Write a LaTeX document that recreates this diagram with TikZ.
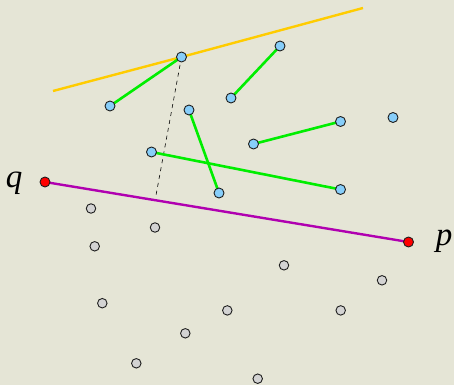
\documentclass[tikz,border=0pt]{standalone}
\usepackage{fontspec}
\newfontfamily\lblfont{Liberation Serif}
\usepackage{tikz}
\definecolor{bg}{RGB}{229,229,214}
\definecolor{ptblue}{RGB}{135,206,250}
\definecolor{ptgray}{RGB}{211,211,211}
\definecolor{ptred}{RGB}{255,0,0}
\definecolor{segyellow}{RGB}{255,204,0}
\definecolor{seggreen}{RGB}{0,238,0}
\definecolor{segpurple}{RGB}{176,0,176}
\definecolor{ptline}{RGB}{30,30,30}
\tikzset{
  pt/.style={circle, draw=ptline, line width=0.9pt, inner sep=0pt, minimum size=10pt},
  bluept/.style={pt, fill=ptblue},
  graypt/.style={pt, fill=ptgray, minimum size=9.5pt},
  redpt/.style={pt, fill=ptred},
  greenseg/.style={draw=seggreen, line width=2.6pt},
  yellowline/.style={draw=segyellow, line width=2.4pt},
  purpleline/.style={draw=segpurple, line width=2.4pt},
  dashline/.style={draw=black, line width=0.6pt, dash pattern=on 4pt off 4pt},
  lbl/.style={font=\lblfont\itshape\fontsize{33}{38}\selectfont, inner sep=0pt}
}
\begin{document}
\begin{tikzpicture}[x=1pt,y=-1pt]
\fill[bg] (0,0) rectangle (454,385);
\useasboundingbox (0,0) rectangle (454,385);
% coordinates of points
\coordinate (a) at (181.5,57);
\coordinate (b) at (110,106);
\coordinate (c) at (189,110);
\coordinate (d) at (231,98);
\coordinate (e) at (280,46);
\coordinate (f) at (253.5,144);
\coordinate (g) at (340.5,121.5);
\coordinate (h) at (393,117.5);
\coordinate (i) at (151.5,152);
\coordinate (j) at (219,193);
\coordinate (k) at (340.5,189.5);
\coordinate (q) at (45,182);
\coordinate (p) at (408.5,242);
\coordinate (y1) at (53,91);
\coordinate (y2) at (363,8);
\coordinate (foot) at (155.5,198);
% lines
\draw[yellowline] (y1) -- (a) -- (y2);
\draw[dashline] (a) -- (foot);
\draw[purpleline] (q) -- (p);
\draw[greenseg] (a) -- (b);
\draw[greenseg] (c) -- (j);
\draw[greenseg] (d) -- (e);
\draw[greenseg] (f) -- (g);
\draw[greenseg] (i) -- (k);
% blue points
\foreach \n in {a,b,c,d,e,f,g,h,i,j,k}{\node[bluept] (n\n) at (\n) {};}
% red points
\node[redpt] (nq) at (q) {};
\node[redpt] (np) at (p) {};
\node[lbl] (ql) at (14,183) {q};
\node[lbl] (pl) at (444,241) {p};
% gray points
\node[graypt] (g1) at (91,208.5) {};
\node[graypt] (g2) at (155,227.5) {};
\node[graypt] (g3) at (94.7,246.3) {};
\node[graypt] (g4) at (102.3,303.2) {};
\node[graypt] (g5) at (185.3,333.3) {};
\node[graypt] (g6) at (136.3,363.3) {};
\node[graypt] (g7) at (227.3,310.4) {};
\node[graypt] (g8) at (284,265.3) {};
\node[graypt] (g9) at (340.7,310.4) {};
\node[graypt] (g10) at (382,280.3) {};
\node[graypt] (g11) at (257.7,378.7) {};
\end{tikzpicture}
\end{document}
